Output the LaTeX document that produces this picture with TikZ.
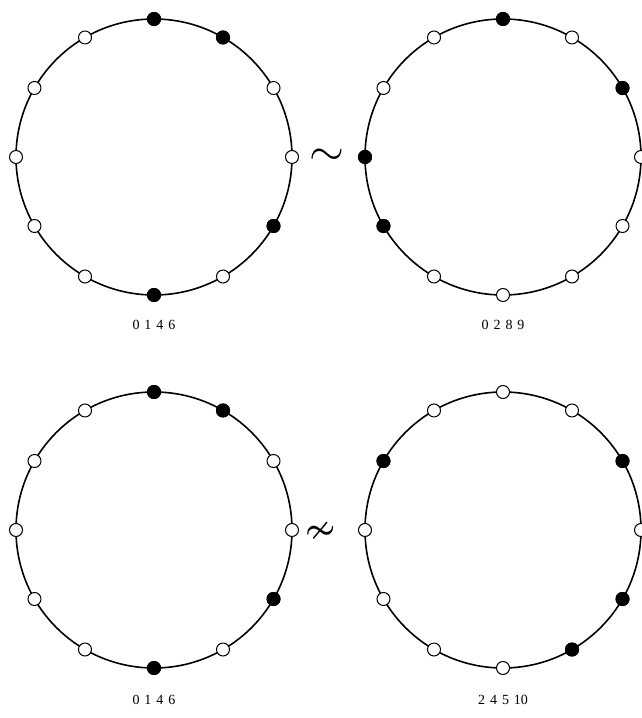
\documentclass[tikz,border=0pt]{standalone}
\usepackage{amssymb}
\usepackage{graphicx}
\usepackage{fontspec}
\setmainfont{Liberation Serif}
\usetikzlibrary{positioning}

\begin{document}
\begin{tikzpicture}[x=1pt, y=1pt,
    ring/.style={line width=1.6pt},
    opendot/.style={draw, circle, fill=white, line width=1pt, minimum size=13pt, inner sep=0pt},
    fulldot/.style={opendot, fill=black},
    setname/.style={font=\fontsize{14}{14}\selectfont, inner sep=0pt},
    relsign/.style={inner sep=0pt}]
    \useasboundingbox (0,0) rectangle (642,718);
    % Centres
    \coordinate (TL) at (154,561);
    \coordinate (TR) at (503,561);
    \coordinate (BL) at (154,188);
    \coordinate (BR) at (503,188);

    % Rings with twelve points
    \foreach \c/\marked in {TL/{0,1,4,6}, TR/{0,2,8,9}, BL/{0,1,4,6}, BR/{2,4,5,10}} {
        \draw[ring] (\c) circle (138);
        \foreach \k in {0,...,11}
            \node[opendot] (\c\k) at ([shift={({90-30*\k}:138)}]\c) {};
        \foreach \k in \marked
            \node[fulldot] (\c\k) at ([shift={({90-30*\k}:138)}]\c) {};
    }

    % Names of the sets
    \node[setname] (nTL) at (154,393) {0\hspace{5pt}1\hspace{5pt}4\hspace{5pt}6};
    \node[setname] (nTR) at (503,393) {0\hspace{5pt}2\hspace{5pt}8\hspace{5pt}9};
    \node[setname] (nBL) at (154,18) {0\hspace{5pt}1\hspace{5pt}4\hspace{5pt}6};
    \node[setname] (nBR) at (503,18) {2\hspace{5pt}4\hspace{5pt}5\hspace{5pt}10};

    % Relations
    \node[relsign] (same) at (327,561) {\scalebox{4.5}{$\sim$}};
    \node[relsign] (differ) at (321,185) {\scalebox{3.9}{$\nsim$}};
\end{tikzpicture}
\end{document}
